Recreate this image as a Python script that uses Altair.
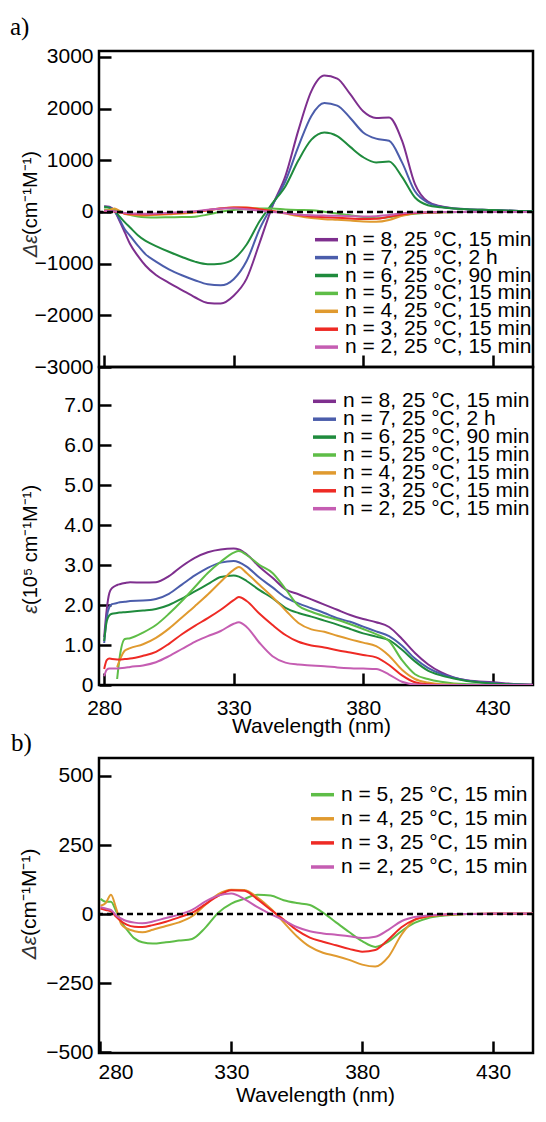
import altair as alt
import pandas as pd

FONT = "Liberation Sans"

SERIES = ["n = 8, 25 °C, 15 min", "n = 7, 25 °C, 2 h", "n = 6, 25 °C, 90 min",
          "n = 5, 25 °C, 15 min", "n = 4, 25 °C, 15 min", "n = 3, 25 °C, 15 min",
          "n = 2, 25 °C, 15 min"]
COLORS = ["#7E2F8E", "#4B5DAB", "#1F8B3D", "#5EBD47", "#E09A2F", "#EE2A24", "#C55DB2"]

# CD spectra (delta epsilon, cm-1 M-1)
CD_WL = [280, 282, 284, 286, 288, 290, 293, 296, 300, 305, 310, 315, 320, 325, 330, 335,
         340, 345, 350, 355, 360, 365, 370, 375, 380, 385, 390, 395, 400, 405, 410, 415,
         420, 430, 440, 449]
CD_N8 = [110, 100, 20, -180, -400, -620, -850, -1040, -1220, -1370, -1510, -1650, -1760,
         -1770, -1620, -1290, -600, 120, 700, 1585, 2340, 2640, 2580, 2280, 1950, 1820,
         1830, 1380, 540, 200, 110, 70, 55, 40, 20, 10]
CD_N7 = [100, 90, 10, -150, -340, -460, -650, -820, -960, -1110, -1225, -1320, -1400,
         -1420, -1300, -950, -330, 140, 600, 1270, 1860, 2110, 2060, 1820, 1540, 1420,
         1380, 960, 400, 180, 100, 70, 55, 40, 20, 10]
CD_N6 = [100, 80, 20, -90, -200, -300, -450, -560, -660, -770, -870, -960, -1010, -1000,
         -910, -630, -180, 170, 500, 1000, 1400, 1540, 1470, 1260, 1060, 960, 975, 680,
         280, 130, 90, 70, 55, 40, 20, 10]
CD_N5 = [55, 45, 45, 10, -30, -55, -88, -102, -107, -102, -96, -90, -50, 5, 38, 55, 70,
         67, 50, 40, 33, 5, -30, -65, -98, -119, -100, -62, -32, -15, -7, -3, 0, 0, 0, 0]
CD_N4 = [30, 40, 70, 20, -38, -52, -62, -66, -57, -43, -30, -8, 33, 72, 88, 87, 60, 20,
         -30, -80, -118, -140, -152, -166, -183, -190, -155, -75, -22, -9, -4, -2, 0, 2,
         2, 2]
CD_N3 = [20, 15, 10, -10, -27, -38, -46, -47, -40, -28, -12, 5, 35, 66, 86, 84, 53, 16,
         -20, -58, -85, -100, -113, -126, -136, -130, -92, -48, -20, -8, -3, 0, 0, 1, 1, 1]
CD_N2 = [25, 20, 15, -5, -17, -25, -31, -33, -27, -14, -2, 15, 45, 67, 74, 54, 25, 0,
         -22, -47, -62, -70, -75, -80, -87, -82, -57, -26, -11, -5, -2, 0, 0, 2, 2, 2]

# absorption spectra (epsilon, 10^5 cm-1 M-1)
AB_WL = [280, 281, 282, 283, 285, 286, 288, 290, 295, 300, 305, 310, 315, 320, 325, 330,
         332, 335, 340, 345, 350, 355, 360, 365, 370, 375, 380, 385, 390, 395, 400, 405,
         410, 415, 420, 430, 440, 449]
AB_N8 = [1.2, 1.9, 2.3, 2.42, 2.5, 2.52, 2.55, 2.57, 2.56, 2.57, 2.72, 2.97, 3.18, 3.32,
         3.39, 3.41, 3.39, 3.27, 2.95, 2.68, 2.39, 2.27, 2.14, 2.01, 1.88, 1.75, 1.65,
         1.57, 1.45, 1.15, 0.8, 0.52, 0.32, 0.19, 0.12, 0.07, 0.02, 0.0]
AB_N7 = [1.05, 1.7, 1.95, 2.02, 2.05, 2.07, 2.08, 2.1, 2.11, 2.15, 2.28, 2.51, 2.74, 2.93,
         3.06, 3.1, 3.07, 2.96, 2.68, 2.44, 2.19, 2.04, 1.92, 1.8, 1.67, 1.58, 1.46, 1.34,
         1.22, 0.98, 0.66, 0.43, 0.28, 0.18, 0.11, 0.05, 0.01, 0.0]
AB_N6 = [1.1, 1.6, 1.74, 1.78, 1.8, 1.81, 1.82, 1.83, 1.86, 1.9, 2.0, 2.16, 2.34, 2.52,
         2.7, 2.74, 2.71, 2.6, 2.37, 2.17, 1.93, 1.8, 1.71, 1.61, 1.51, 1.4, 1.29, 1.21,
         1.12, 0.88, 0.59, 0.36, 0.24, 0.16, 0.1, 0.04, 0.01, 0.0]
AB_N5 = [None, None, None, None, 0.15, 0.7, 1.15, 1.17, 1.31, 1.5, 1.78, 2.1, 2.45, 2.8,
         3.08, 3.31, 3.35, 3.25, 3.0, 2.8, 2.4, 1.98, 1.83, 1.72, 1.63, 1.52, 1.4, 1.27,
         1.1, 0.62, 0.27, 0.15, 0.08, 0.04, 0.02, 0.0, 0.0, 0.0]
AB_N4 = [None, None, None, None, 0.45, 0.62, 0.86, 0.92, 1.02, 1.18, 1.41, 1.69, 1.97,
         2.26, 2.58, 2.88, 2.95, 2.8, 2.5, 2.2, 1.87, 1.55, 1.39, 1.33, 1.23, 1.14, 1.06,
         0.97, 0.73, 0.38, 0.15, 0.06, 0.02, 0.01, 0.0, 0.0, 0.0, 0.0]
AB_N3 = [0.4, 0.62, 0.66, 0.65, 0.64, 0.64, 0.65, 0.66, 0.73, 0.83, 1.03, 1.27, 1.48,
         1.67, 1.88, 2.12, 2.2, 2.1, 1.78, 1.5, 1.25, 1.08, 0.99, 0.94, 0.87, 0.81, 0.75,
         0.69, 0.5, 0.24, 0.07, 0.02, 0.0, 0.0, 0.0, 0.0, 0.0, 0.0]
AB_N2 = [0.22, 0.38, 0.41, 0.41, 0.41, 0.42, 0.43, 0.45, 0.49, 0.57, 0.72, 0.9, 1.08,
         1.22, 1.35, 1.53, 1.57, 1.45, 1.05, 0.72, 0.56, 0.51, 0.49, 0.47, 0.44, 0.42,
         0.41, 0.4, 0.26, 0.08, 0.01, 0.0, 0.0, 0.0, 0.0, 0.0, 0.0, 0.0]

XTICKS = [280, 330, 380, 430]
Y1_TICKS = [-3000, -2000, -1000, 0, 1000, 2000, 3000]
Y2_TICKS = [0, 1, 2, 3, 4, 5, 6, 7]
Y3_TICKS = [-500, -250, 0, 250, 500]


def long(wl, names, arrays):
    rows = []
    for name, vals in zip(names, arrays):
        for w, v in zip(wl, vals):
            if v is not None:
                rows.append({"wl": w, "v": v, "s": name})
    return pd.DataFrame(rows)


cd_all = long(CD_WL, SERIES, [CD_N8, CD_N7, CD_N6, CD_N5, CD_N4, CD_N3, CD_N2])
ab_all = long(AB_WL, SERIES, [AB_N8, AB_N7, AB_N6, AB_N5, AB_N4, AB_N3, AB_N2])
cd_small = long(CD_WL, SERIES[3:], [CD_N5, CD_N4, CD_N3, CD_N2])


def x_axis(show, title_x=0, title_y=42, pad=12, flush_off=8):
    if show:
        return alt.Axis(values=XTICKS, offset=-12, tickSize=12, domain=False, grid=False,
                        labelPadding=pad, labelFlush=5, labelFlushOffset=flush_off,
                        title="Wavelength (nm)", titleX=title_x, titleY=title_y,
                        titleBaseline="top", titleAlign="center")
    return alt.Axis(values=XTICKS, offset=-12, tickSize=12, domain=False, grid=False,
                    labels=False, title=None)


def y_axis(values, expr=None):
    if expr:
        return alt.Axis(values=values, offset=-12, tickSize=12, domain=False, grid=False,
                        title=None, labelPadding=6, labelExpr=expr)
    return alt.Axis(values=values, offset=-12, tickSize=12, domain=False, grid=False,
                    title=None, labelPadding=6, format="d")


def colour_scale(names):
    return alt.Scale(domain=names, range=[COLORS[SERIES.index(n)] for n in names])


def lines(df, xdom, xax, ydom, yax, names):
    return alt.Chart(df).mark_line(strokeWidth=2, interpolate="monotone", clip=True).encode(
        x=alt.X("wl:Q", scale=alt.Scale(domain=xdom, nice=False, zero=False), axis=xax),
        y=alt.Y("v:Q", scale=alt.Scale(domain=ydom, nice=False, zero=False), axis=yax),
        color=alt.Color("s:N", scale=colour_scale(names), legend=None),
    )


def key(names, x0, y_first, step):
    n = len(names)
    df = pd.DataFrame({"s": names, "k": list(range(n))})
    yo = alt.YOffset("k:Q", scale=alt.Scale(domain=[0, n - 1], range=[0, step * (n - 1)],
                                            nice=False, zero=False))
    sym = alt.Chart(df).mark_rule(strokeWidth=3.5).encode(
        x=alt.value(x0), x2=alt.value(x0 + 23), y=alt.value(y_first), yOffset=yo,
        color=alt.Color("s:N", scale=colour_scale(names), legend=None))
    lab = alt.Chart(df).mark_text(align="left", baseline="middle", font=FONT,
                                  fontSize=21, color="black").encode(
        x=alt.value(x0 + 30), y=alt.value(y_first), yOffset=yo, text="s:N")
    return [sym, lab]


def zero_line():
    return alt.Chart(pd.DataFrame({"v": [0]})).mark_rule(
        color="black", strokeWidth=2.5, strokeDash=[6, 4]).encode(y="v:Q")


def txt(s, x, y, **kw):
    return alt.Chart(pd.DataFrame({"t": [s]})).mark_text(**kw).encode(
        text="t:N", x=alt.value(x), y=alt.value(y))


def ytitle(sym, rest, x, y, fs):
    a = txt(sym, x, y, font=FONT, fontSize=fs, fontStyle="italic", angle=270,
            align="right", baseline="middle", color="#333333")
    b = txt(rest, x, y, font=FONT, fontSize=fs, angle=270, align="left",
            baseline="middle", color="black")
    return [a, b]


def plabel(s, x, y):
    return txt(s, x, y, font="Liberation Serif", fontSize=25, align="left",
               baseline="alphabetic", color="black")


W = 434
X1 = [278.0, 445.57]
X3 = [279.43, 445.27]

p1 = alt.layer(
    lines(cd_all, X1, x_axis(False), [-3000, 3116], y_axis(Y1_TICKS), SERIES),
    zero_line(),
    *ytitle("Δε", "\u00a0(cm⁻¹M⁻¹)", -68, 184, 20),
    plabel("a)", -89, -16),
    *key(SERIES, 216, 188.7, 17.9),
).properties(width=W, height=316)

p2 = alt.layer(
    lines(ab_all, X1, x_axis(True, 212, 42, 12, 8), [0, 7.95],
          y_axis(Y2_TICKS, "datum.value == 0 ? '0' : format(datum.value, '.1f')"),
          SERIES),
    *ytitle("ε", "\u00a0(10⁵ cm⁻¹M⁻¹)", -68, 238, 20),
    *key(SERIES, 214, 34.3, 17.9),
).properties(width=W, height=318)

spacer = alt.Chart(pd.DataFrame({"a": [0]})).mark_point(opacity=0).properties(
    width=W, height=73, view=alt.ViewConfig(stroke="transparent"))

p3 = alt.layer(
    lines(cd_small, X3, x_axis(True, 216, 43, 8, 2.5), [-503, 565], y_axis(Y3_TICKS),
          SERIES[3:]),
    zero_line(),
    *ytitle("Δε", "\u00a0(cm⁻¹M⁻¹)", -69, 178, 21),
    plabel("b)", -88, -7),
    *key(SERIES[3:], 212, 36.7, 24.1),
).properties(width=W, height=295)

chart = alt.vconcat(p1, p2, spacer, p3, spacing=0, bounds="flush").resolve_scale(
    color="independent", yOffset="independent"
).properties(
    padding={"left": 0, "top": 5, "right": 0, "bottom": 0}
).configure_view(
    stroke="black", strokeWidth=2.5
).configure_axis(
    labelFont=FONT, labelFontSize=21, labelColor="black", tickColor="black",
    tickWidth=2.5, titleFont=FONT, titleFontSize=21, titleFontWeight="normal",
    titleColor="black"
)

chart.save("out.html", embed_options={"renderer": "svg", "actions": False})
